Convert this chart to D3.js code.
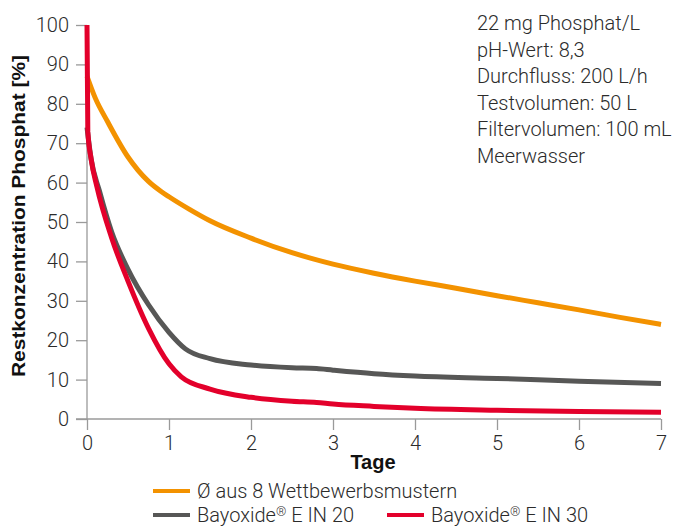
<!DOCTYPE html>
<html>
<head>
<meta charset="utf-8">
<script src="https://cdn.jsdelivr.net/npm/d3@7"></script>
<style>
  body { margin: 0; background: #fff; }
  svg text { font-family: Roboto, "Open Sans", sans-serif; fill: #2b2b2b; }
  .tick text { font-weight: 300; font-size: 20px; }
  .axis path, .axis line { stroke: #9a9a9a; stroke-width: 1.3; }
  .note, .legend text { font-weight: 300; font-size: 20px; }
  .axisLabel { font-family: "Liberation Sans", Arial, sans-serif; font-weight: bold; font-size: 19px; fill: #111; }
</style>
</head>
<body>
<script>
// ----- data -----
const xTicks = [0, 1, 2, 3, 4, 5, 6, 7];
const yTicks = [0, 10, 20, 30, 40, 50, 60, 70, 80, 90, 100];

// Ø aus 8 Wettbewerbsmustern
const orangeDays = [0, 0.1, 0.25, 0.5, 0.75, 0.9, 1, 1.25, 1.5, 2, 2.5, 3, 3.5, 4, 4.5, 5, 5.5, 6, 6.5, 7];
const orangeVals = [87, 81.5, 75.5, 66.5, 60.3, 57.8, 56.4, 53.2, 50.3, 45.9, 42.2, 39.3, 37, 35, 33.2, 31.3, 29.5, 27.7, 25.8, 24];

// Bayoxide E IN 20
const greyDays = [0, 0.05, 0.15, 0.3, 0.5, 0.75, 1, 1.2, 1.5, 2, 2.5, 2.8, 3, 3.5, 4, 5, 6, 7];
const greyVals = [74, 66, 58, 47.5, 38, 29, 22, 17.8, 15.3, 13.7, 13, 12.8, 12.4, 11.5, 10.9, 10.3, 9.6, 9.0];

// Bayoxide E IN 30
const redDays = [0, 0.01, 0.05, 0.12, 0.3, 0.5, 0.75, 1, 1.15, 1.5, 2, 2.5, 2.8, 3, 3.5, 4, 5, 6, 7];
const redVals = [100, 73, 66, 59, 46, 35, 23, 14, 10.7, 7.6, 5.5, 4.5, 4.2, 3.8, 3.2, 2.7, 2.2, 1.9, 1.7];

const notes = ["22 mg Phosphat/L", "pH-Wert: 8,3", "Durchfluss: 200 L/h",
               "Testvolumen: 50 L", "Filtervolumen: 100 mL", "Meerwasser"];

const seriesNames = ["Ø aus 8 Wettbewerbsmustern", "Bayoxide® E IN 20", "Bayoxide® E IN 30"];
const seriesColors = ["#f39200", "#575756", "#e3002b"];

const width = 684, height = 526;
const plotLeft = 87, plotRight = 661, plotTop = 25, plotBottom = 419;

const svg = d3.select("body").append("svg")
    .attr("width", width)
    .attr("height", height);

let x = d3.scaleLinear().domain([0, 7]).range([plotLeft, plotRight]);
let y = d3.scaleLinear().domain([0, 100]).range([plotBottom, plotTop]);

// x axis
svg.append("g")
    .attr("class", "axis")
    .attr("transform", "translate(0," + plotBottom + ")")
    .call(d3.axisBottom(x).tickValues(xTicks).tickFormat(d3.format("d"))
        .tickSize(11).tickSizeOuter(0).tickPadding(6))
    .call(g => g.select(".domain").attr("d", "M" + (plotLeft - 11) + ",0H" + plotRight));

// y axis
svg.append("g")
    .attr("class", "axis")
    .attr("transform", "translate(" + plotLeft + ",0)")
    .call(d3.axisLeft(y).tickValues(yTicks).tickSize(11).tickSizeOuter(0).tickPadding(7))
    .call(g => g.select(".domain").attr("d", "M0," + plotTop + "V" + plotBottom));

svg.selectAll(".tick text").attr("fill", "#2b2b2b");

// axis labels
svg.append("text")
    .attr("class", "axisLabel")
    .attr("transform", "translate(25,216) rotate(-90)")
    .attr("text-anchor", "middle")
    .attr("textLength", 322)
    .attr("lengthAdjust", "spacingAndGlyphs")
    .text("Restkonzentration Phosphat [%]");

svg.append("text")
    .attr("class", "axisLabel")
    .attr("x", 373)
    .attr("y", 469)
    .attr("text-anchor", "middle")
    .style("font-size", "20px")
    .text("Tage");

// lines
const lineGen = d3.line()
    .x(d => x(d[0]))
    .y(d => y(d[1]))
    .curve(d3.curveMonotoneX);

const series = [
    d3.zip(orangeDays, orangeVals),
    d3.zip(greyDays, greyVals),
    d3.zip(redDays, redVals)
];

svg.selectAll(".curve")
    .data(series)
    .enter()
    .append("path")
    .attr("class", "curve")
    .attr("d", lineGen)
    .attr("fill", "none")
    .attr("stroke", (d, i) => seriesColors[i])
    .attr("stroke-width", 5);

// test conditions
svg.append("g")
    .selectAll("text")
    .data(notes)
    .enter()
    .append("text")
    .attr("class", "note")
    .attr("x", 477)
    .attr("y", (d, i) => 30 + i * 26.6)
    .text(d => d);

// legend
const legendPos = [[153, 491], [153, 515], [387, 515]];
const legend = svg.append("g").attr("class", "legend");

legend.selectAll("line")
    .data(seriesNames)
    .enter()
    .append("line")
    .attr("x1", (d, i) => legendPos[i][0])
    .attr("x2", (d, i) => legendPos[i][0] + 37)
    .attr("y1", (d, i) => legendPos[i][1])
    .attr("y2", (d, i) => legendPos[i][1])
    .attr("stroke", (d, i) => seriesColors[i])
    .attr("stroke-width", 4);

// ® drawn as a small raised sign like in the original
legend.selectAll("text")
    .data(seriesNames)
    .enter()
    .append("text")
    .attr("x", (d, i) => legendPos[i][0] + 44)
    .attr("y", (d, i) => legendPos[i][1] + 7)
    .each(function(d) {
        const parts = d.split("®");
        const t = d3.select(this);
        t.append("tspan").text(parts[0]);
        if (parts.length > 1) {
            t.append("tspan").text("®")
                .style("font-size", "13px")
                .attr("dy", -6);
            t.append("tspan").text(parts[1]).attr("dy", 6);
        }
    });
</script>
</body>
</html>
